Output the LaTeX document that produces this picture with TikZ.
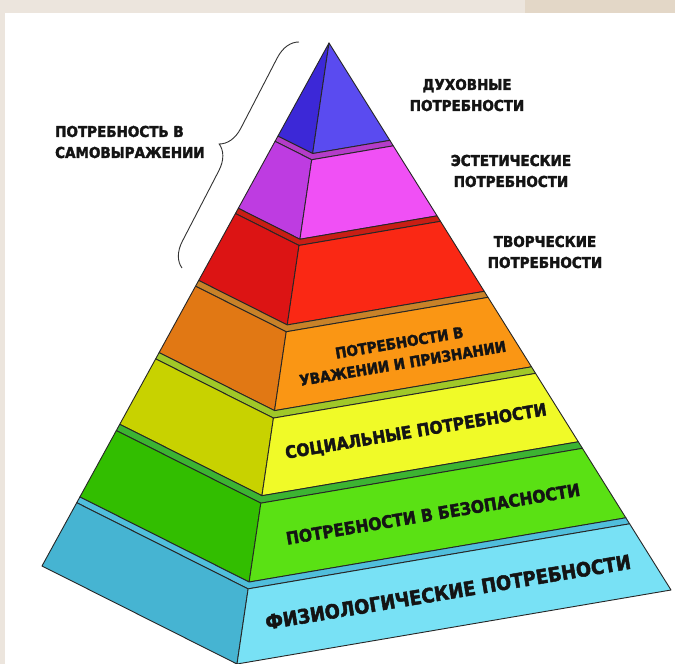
\documentclass[tikz,border=0pt]{standalone}
\usepackage{fontspec}
\setmainfont{DejaVu Sans Condensed}[BoldFeatures={FakeBold=2.2}]
\usepackage{tikz}
\usetikzlibrary{calc,
                decorations.pathreplacing}

\definecolor{pageback}{HTML}{ECE5DD}
\definecolor{pagetab}{HTML}{E3D7C7}
\definecolor{blueL}{HTML}{3C28D7}
\definecolor{blueF}{HTML}{5A4BF0}
\definecolor{magL}{HTML}{BE3CE1}
\definecolor{magF}{HTML}{F050F5}
\definecolor{magT}{HTML}{B43CC8}
\definecolor{redL}{HTML}{DC1414}
\definecolor{redF}{HTML}{FA2814}
\definecolor{redT}{HTML}{C81E14}
\definecolor{oraL}{HTML}{E17814}
\definecolor{oraF}{HTML}{FA9614}
\definecolor{oraT}{HTML}{C88228}
\definecolor{yelL}{HTML}{C8D200}
\definecolor{yelF}{HTML}{F0FA28}
\definecolor{yelT}{HTML}{A0C828}
\definecolor{grnL}{HTML}{32BE00}
\definecolor{grnF}{HTML}{5AE114}
\definecolor{grnT}{HTML}{3CB432}
\definecolor{cyaL}{HTML}{46B4D2}
\definecolor{cyaF}{HTML}{78E1F5}
\definecolor{cyaT}{HTML}{50BEDC}

\tikzset{
    face/.style={draw=black!85, line width=0.9pt, line join=round},
    lbl/.style={font=\bfseries\fontsize{15}{21}\selectfont, text=black!92,
                inner sep=0pt},
    sidelbl/.style={lbl, align=center},
    steplbl/.style={lbl, align=center, rotate=9.5},
    biglbl/.style={steplbl, font=\bfseries\fontsize{17.2}{20}\selectfont},
    hugelbl/.style={steplbl, font=\bfseries\fontsize{19.8}{22}\selectfont},
}

% #1 top, #2 bottom, #3 bottom of the stage above, #4 left, #5 front, #6 ledge
\newcommand{\stage}[6]{%
    \filldraw[face, fill=#6] ($(apex)!#3!(bl)$) -- ($(apex)!#3!(bf)$) -- ($(apex)!#3!(br)$)
        -- ($(apex)!#1!(br)$) -- ($(apex)!#1!(bf)$) -- ($(apex)!#1!(bl)$) -- cycle;
    \filldraw[face, fill=#4] ($(apex)!#1!(bl)$) -- ($(apex)!#1!(bf)$)
        -- ($(apex)!#2!(bf)$) -- ($(apex)!#2!(bl)$) -- cycle;
    \filldraw[face, fill=#5] ($(apex)!#1!(bf)$) -- ($(apex)!#1!(br)$)
        -- ($(apex)!#2!(br)$) -- ($(apex)!#2!(bf)$) -- cycle;
}

\begin{document}
\begin{tikzpicture}[x=1pt, y=-1pt]
    \useasboundingbox (0,0) rectangle (675,664);
    \fill[pageback] (0,0) rectangle (675,664);
    \fill[pagetab] (525,0) rectangle (675,13);
    \fill[white] (5,13) rectangle (675,664);

    \coordinate (apex) at (329,43);
    \coordinate (bl) at (42,566);
    \coordinate (bf) at (237,664);
    \coordinate (br) at (671,590);

    % top of the pyramid
    \filldraw[face, fill=blueL] (apex) -- ($(apex)!0.178!(bl)$) -- ($(apex)!0.178!(bf)$) -- cycle;
    \filldraw[face, fill=blueF] (apex) -- ($(apex)!0.178!(bf)$) -- ($(apex)!0.178!(br)$) -- cycle;

    \stage{0.188}{0.316}{0.178}{magL}{magF}{magT}
    \stage{0.326}{0.454}{0.316}{redL}{redF}{redT}
    \stage{0.465}{0.592}{0.454}{oraL}{oraF}{oraT}
    \stage{0.604}{0.729}{0.592}{yelL}{yelF}{yelT}
    \stage{0.741}{0.868}{0.729}{grnL}{grnF}{grnT}
    \stage{0.879}{1.000}{0.868}{cyaL}{cyaF}{cyaT}

    % texts on the stages
    \node[steplbl] (esteem) at (401,353) {ПОТРЕБНОСТИ В\\УВАЖЕНИИ И ПРИЗНАНИИ};
    \node[biglbl] (social) at (416,432) {СОЦИАЛЬНЫЕ ПОТРЕБНОСТИ};
    \node[biglbl] (safety) at (433,514) {ПОТРЕБНОСТИ В БЕЗОПАСНОСТИ};
    \node[hugelbl] (physio) at (448,592) {ФИЗИОЛОГИЧЕСКИЕ ПОТРЕБНОСТИ};

    % texts beside the top
    \node[sidelbl] (spirit) at (467,95) {ДУХОВНЫЕ\\ПОТРЕБНОСТИ};
    \node[sidelbl] (aesth) at (511,171) {ЭСТЕТИЧЕСКИЕ\\ПОТРЕБНОСТИ};
    \node[sidelbl] (creat) at (545,252) {ТВОРЧЕСКИЕ\\ПОТРЕБНОСТИ};
    \node[lbl, align=left, anchor=west] (selfexp) at (55,142) {ПОТРЕБНОСТЬ В\\САМОВЫРАЖЕНИИ};

    \coordinate (brlow) at (182,268);
    \coordinate (brtop) at (299,42);
    \draw[black!80, line width=0.9pt, decorate,
          decoration={brace, amplitude=24pt, aspect=0.5}] (brlow) -- (brtop);
\end{tikzpicture}
\end{document}
